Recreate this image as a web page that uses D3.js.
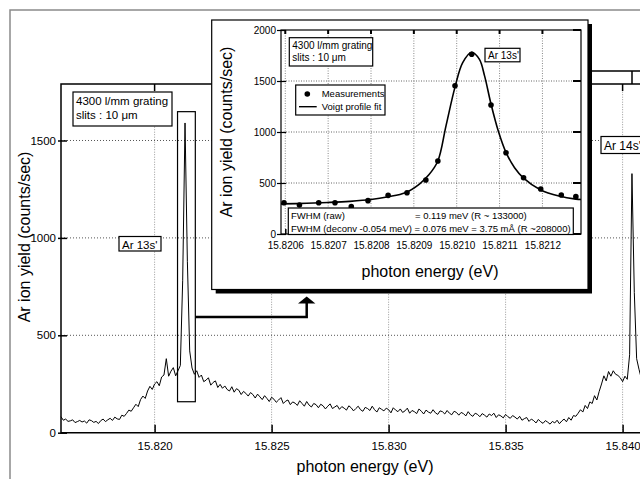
<!DOCTYPE html>
<html>
<head>
<meta charset="utf-8">
<script src="https://cdn.jsdelivr.net/npm/d3@7"></script>
<style>
body { margin: 0; background: #fff; }
text { font-family: "Liberation Sans", Arial, sans-serif; fill: #000; }
</style>
</head>
<body>
<div id="chart"></div>
<script>
// ---- data ----
// main spectrum, sampled every 0.1 meV from 15.8160 eV
var mainStart = 15.8160, mainStep = 0.0001;
var mainYield = [
  82, 64, 70, 58, 61, 66, 52, 57, 63, 55,
  60, 49, 66, 62, 53, 58, 47, 62, 70, 57,
  66, 74, 63, 80, 71, 68, 90, 84, 99, 116,
  110, 128, 146, 134, 170, 188, 176, 214, 238, 222,
  250, 262, 241, 286, 296, 380, 290, 316, 334, 292,
  318, 345, 780, 1590, 880, 420, 332, 300, 318, 284,
  296, 262, 270, 282, 244, 258, 266, 232, 248, 228,
  240, 222, 214, 236, 208, 226, 218, 196, 212, 202,
  188, 206, 196, 178, 198, 184, 170, 190, 176, 160,
  182, 172, 156, 168, 180, 150, 162, 168, 144, 158,
  152, 140, 164, 150, 136, 160, 142, 132, 150, 144,
  128, 146, 138, 122, 136, 148, 124, 132, 140, 120,
  134, 126, 116, 138, 128, 112, 124, 136, 118, 110,
  130, 124, 114, 136, 118, 106, 128, 120, 112, 126,
  118, 102, 128, 116, 108, 122, 104, 112, 126, 100,
  114, 108, 98, 122, 110, 96, 116, 106, 100, 118,
  102, 94, 112, 108, 96, 114, 100, 92, 110, 104,
  90, 104, 98, 86, 108, 92, 84, 100, 94, 82,
  98, 90, 80, 96, 88, 100, 78, 92, 86, 76,
  94, 82, 74, 88, 80, 70, 84, 64, 72, 78,
  58, 70, 62, 50, 68, 56, 48, 62, 54, 44,
  58, 50, 64, 46, 60, 70, 56, 78, 64, 88,
  84, 100, 118, 106, 140, 124, 158, 150, 190, 168,
  212, 250, 292, 266, 314, 290, 318, 300, 294, 282,
  262, 290, 274, 400, 1330, 720, 380, 326, 278, 302,
  258, 272, 246, 262, 238, 254
];
var mainXTicks = [15.820, 15.825, 15.830, 15.835, 15.840];
var mainYTicks = [0, 500, 1000, 1500];
// region that is blown up in the inset: energies, yields
var zoomEnergy = [15.82098, 15.82174];
var zoomYield = [159, 1648];

// inset: measured points
var measEnergy = [15.820597, 15.820633, 15.820678, 15.820716, 15.820754, 15.820793,
  15.820840, 15.820884, 15.820928, 15.820956, 15.820996, 15.821035,
  15.821080, 15.821115, 15.821156, 15.821196, 15.821244, 15.821278];
var measYield = [307, 284, 307, 307, 268, 327, 379, 405, 529, 716, 1454, 1762,
  1265, 797, 552, 441, 382, 366];
// inset: Voigt fit curve
var fitEnergy = [15.82059, 15.82065, 15.82070, 15.82075, 15.82080, 15.82084, 15.82088,
  15.820913, 15.820935, 15.820956, 15.820975, 15.820996, 15.821014, 15.821035,
  15.821053, 15.821065, 15.821080, 15.821097, 15.821115, 15.821135, 15.821156,
  15.821196, 15.821239, 15.821278, 15.82129];
var fitYield = [295, 301, 309, 320, 338, 365, 405,
  490, 580, 716, 1060, 1440, 1680, 1782,
  1712, 1550, 1275, 1010, 800, 650, 548,
  432, 372, 342, 338];
var insetXTicks = [15.8206, 15.8207, 15.8208, 15.8209, 15.8210, 15.8211, 15.8212];
var insetYTicks = [0, 500, 1000, 1500, 2000];

// ---- drawing ----
var svg = d3.select("#chart").append("svg")
    .attr("width", 640)
    .attr("height", 479)

// outer grey frame
svg.append("rect")
    .attr("x", 10).attr("y", 10)
    .attr("width", 660).attr("height", 500)
    .attr("fill", "none").attr("stroke", "#8a8a8a").attr("stroke-width", 1.5)

var x = d3.scaleLinear().domain([15.816, 15.842]).range([61, 669.4]);
var y = d3.scaleLinear().domain([0, 1790]).range([432.7, 84]);

var main = svg.append("g").attr("class", "main")

// grid
main.selectAll(".vgrid").data(mainXTicks).enter().append("line")
    .attr("x1", d => x(d)).attr("x2", d => x(d))
    .attr("y1", y(0)).attr("y2", y.range()[1])
    .attr("stroke", "#999").attr("stroke-dasharray", "1,1.5")
main.selectAll(".hgrid").data(mainYTicks.slice(1)).enter().append("line")
    .attr("x1", x.range()[0]).attr("x2", x.range()[1])
    .attr("y1", d => y(d)).attr("y2", d => y(d))
    .attr("stroke", "#555").attr("stroke-dasharray", "1,2")

// frame
main.append("path")
    .attr("d", "M" + x.range()[1] + "," + y.range()[1] + "H" + x.range()[0] + "V" + y(0) + "H" + x.range()[1])
    .attr("fill", "none").attr("stroke", "#000").attr("stroke-width", 1.5)

// axes
var xAxis = main.append("g")
    .attr("transform", "translate(0," + y(0) + ")")
    .call(d3.axisBottom(x).tickValues(mainXTicks).tickFormat(d3.format(".3f"))
      .tickSizeInner(-8).tickSizeOuter(0).tickPadding(9))
xAxis.select(".domain").remove()
xAxis.selectAll("text").attr("font-size", 11.5)
xAxis.selectAll("line").attr("stroke-width", 1.5)

main.selectAll(".ttick").data(mainXTicks).enter().append("line")
    .attr("x1", d => x(d)).attr("x2", d => x(d))
    .attr("y1", y.range()[1]).attr("y2", y.range()[1] + 7)
    .attr("stroke", "#000").attr("stroke-width", 1.5)

var yAxis = main.append("g")
    .attr("transform", "translate(" + x.range()[0] + ",0)")
    .call(d3.axisLeft(y).tickValues(mainYTicks).tickFormat(d3.format("d"))
      .tickSizeInner(3).tickSizeOuter(0).tickPadding(2))
yAxis.select(".domain").remove()
yAxis.selectAll("text").attr("font-size", 11.5)
yAxis.selectAll("line").attr("x1", 6).attr("stroke-width", 1.5)

// spectrum
var line = d3.line()
    .x((d, i) => x(mainStart + i * mainStep))
    .y(d => y(d))
main.append("path")
    .datum(mainYield)
    .attr("d", line)
    .attr("fill", "none").attr("stroke", "#000").attr("stroke-width", 1)

// titles
svg.append("text")
    .attr("x", 365).attr("y", 472)
    .attr("text-anchor", "middle").attr("font-size", 16).attr("fill", "#222")
    .text("photon energy (eV)")
svg.append("text")
    .attr("transform", "translate(30,237) rotate(-90)")
    .attr("text-anchor", "middle").attr("font-size", 16).attr("fill", "#222")
    .text("Ar ion yield (counts/sec)")

function labelBox(g, bx, by, bw, bh, lines, size) {
  g.append("rect")
    .attr("x", bx).attr("y", by).attr("width", bw).attr("height", bh)
    .attr("fill", "#fff").attr("stroke", "#000").attr("stroke-width", 1.2)
  lines.forEach(function(t, i) {
    g.append("text")
      .attr("x", bx + 3).attr("y", by + size + 1 + i * (size + 2.5))
      .attr("font-size", size)
      .text(t)
  })
}

labelBox(svg, 73, 92, 99, 34, ["4300 l/mm grating", "slits : 10 \u03bcm"], 11.5)
labelBox(svg, 119, 236.5, 42, 14.5, ["Ar 13s'"], 11.5)
labelBox(svg, 601, 136.5, 50, 17, ["Ar 14s'"], 12)

// box around the Ar 13s' peak
svg.append("rect")
    .attr("x", x(zoomEnergy[0])).attr("y", y(zoomYield[1]))
    .attr("width", x(zoomEnergy[1]) - x(zoomEnergy[0]))
    .attr("height", y(zoomYield[0]) - y(zoomYield[1]))
    .attr("fill", "none").attr("stroke", "#000").attr("stroke-width", 1.2)

// arrow to the inset
svg.append("path")
    .attr("d", "M" + x(zoomEnergy[1]) + ",317H306.7V302")
    .attr("fill", "none").attr("stroke", "#000").attr("stroke-width", 2.5)
svg.append("path")
    .attr("d", "M298,303.5L315.4,303.5L306.7,296.5Z")
    .attr("fill", "#000")

// bits of a frame at the top right
svg.append("path")
    .attr("d", "M592,71H640M632,71V84")
    .attr("fill", "none").attr("stroke", "#000").attr("stroke-width", 1.5)

// ---- inset ----
var inset = svg.append("g").attr("class", "inset")
inset.append("rect")
    .attr("x", 215.7).attr("y", 24).attr("width", 376.3).attr("height", 269.5)
    .attr("fill", "#000")
inset.append("rect")
    .attr("x", 211.7).attr("y", 20).attr("width", 376.3).attr("height", 269.5)
    .attr("fill", "#fff").attr("stroke", "#000").attr("stroke-width", 1.2)

var ix = d3.scaleLinear().domain([15.82059, 15.82129]).range([281, 581]);
var iy = d3.scaleLinear().domain([0, 2000]).range([234, 30]);

inset.selectAll(".vgrid").data(insetXTicks).enter().append("line")
    .attr("x1", d => ix(d)).attr("x2", d => ix(d))
    .attr("y1", iy(0)).attr("y2", iy(2000))
    .attr("stroke", "#888").attr("stroke-dasharray", "1,1.5")
inset.selectAll(".hgrid").data(insetYTicks.slice(1, 4)).enter().append("line")
    .attr("x1", ix.range()[0]).attr("x2", ix.range()[1])
    .attr("y1", d => iy(d)).attr("y2", d => iy(d))
    .attr("stroke", "#666").attr("stroke-dasharray", "1,1.5")

inset.append("rect")
    .attr("x", ix.range()[0]).attr("y", iy(2000))
    .attr("width", ix.range()[1] - ix.range()[0]).attr("height", iy(0) - iy(2000))
    .attr("fill", "none").attr("stroke", "#000").attr("stroke-width", 1.2)

var ixAxis = inset.append("g")
    .attr("transform", "translate(0," + iy(0) + ")")
    .call(d3.axisBottom(ix).tickValues(insetXTicks).tickFormat(d3.format(".4f"))
      .tickSizeInner(-5).tickSizeOuter(0).tickPadding(8))
ixAxis.select(".domain").remove()
ixAxis.selectAll("text").attr("font-size", 10)
ixAxis.selectAll("line").attr("stroke-width", 1.5)

inset.selectAll(".ttick").data(insetXTicks).enter().append("line")
    .attr("x1", d => ix(d)).attr("x2", d => ix(d))
    .attr("y1", iy(2000)).attr("y2", iy(2000) + 4)
    .attr("stroke", "#000").attr("stroke-width", 2)
inset.selectAll(".rtick").data(insetYTicks).enter().append("line")
    .attr("x1", ix.range()[1] - 8).attr("x2", ix.range()[1])
    .attr("y1", d => iy(d)).attr("y2", d => iy(d))
    .attr("stroke", "#000").attr("stroke-width", 2)

var iyAxis = inset.append("g")
    .attr("transform", "translate(" + ix.range()[0] + ",0)")
    .call(d3.axisLeft(iy).tickValues(insetYTicks).tickFormat(d3.format("d"))
      .tickSizeInner(4).tickSizeOuter(0).tickPadding(1))
iyAxis.select(".domain").remove()
iyAxis.selectAll("text").attr("font-size", 10)
iyAxis.selectAll("line").attr("x1", 5).attr("stroke-width", 1.2)

inset.append("text")
    .attr("x", 430).attr("y", 277)
    .attr("text-anchor", "middle").attr("font-size", 16).attr("fill", "#222")
    .text("photon energy (eV)")
inset.append("text")
    .attr("transform", "translate(232,132) rotate(-90)")
    .attr("text-anchor", "middle").attr("font-size", 16).attr("fill", "#222")
    .text("Ar ion yield (counts/sec)")

// fit + points
var fitLine = d3.line()
    .x((d, i) => ix(fitEnergy[i]))
    .y(d => iy(d))
    .curve(d3.curveCatmullRom.alpha(0.5))
inset.append("path")
    .datum(fitYield)
    .attr("d", fitLine)
    .attr("fill", "none").attr("stroke", "#000").attr("stroke-width", 1.6)

inset.selectAll(".meas").data(measYield).enter().append("circle")
    .attr("cx", (d, i) => ix(measEnergy[i]))
    .attr("cy", d => iy(d))
    .attr("r", 2.8)
    .attr("fill", "#000")

labelBox(inset, 289.3, 37.7, 83.4, 28.3, ["4300 l/mm grating", "slits : 10 \u03bcm"], 10)
labelBox(inset, 485, 48.3, 35, 13.5, ["Ar 13s'"], 10)

// legend
inset.append("rect")
    .attr("x", 295.7).attr("y", 85).attr("width", 89.3).attr("height", 30)
    .attr("fill", "#fff").attr("stroke", "#000").attr("stroke-width", 1.2)
inset.append("circle").attr("cx", 307.3).attr("cy", 94).attr("r", 2.8).attr("fill", "#000")
inset.append("line").attr("x1", 299).attr("x2", 316.7).attr("y1", 106.7).attr("y2", 106.7)
    .attr("stroke", "#000").attr("stroke-width", 1.4)
inset.append("text").attr("x", 321.7).attr("y", 97.3).attr("font-size", 9.5).text("Measurements")
inset.append("text").attr("x", 321.7).attr("y", 110).attr("font-size", 9.5).text("Voigt profile fit")

// FWHM box
inset.append("rect")
    .attr("x", 288.3).attr("y", 208).attr("width", 285).attr("height", 26.5)
    .attr("fill", "#fff").attr("stroke", "#000").attr("stroke-width", 1.2)
inset.append("text").attr("x", 291).attr("y", 219).attr("font-size", 9.5).text("FWHM (raw)")
inset.append("text").attr("x", 415).attr("y", 219).attr("font-size", 9.5).text("= 0.119 meV (R ~ 133000)")
inset.append("text").attr("x", 291).attr("y", 232).attr("font-size", 9.5)
    .text("FWHM (deconv -0.054 meV) = 0.076 meV = 3.75 m\u00c5  (R ~208000)")
</script>
</body>
</html>
